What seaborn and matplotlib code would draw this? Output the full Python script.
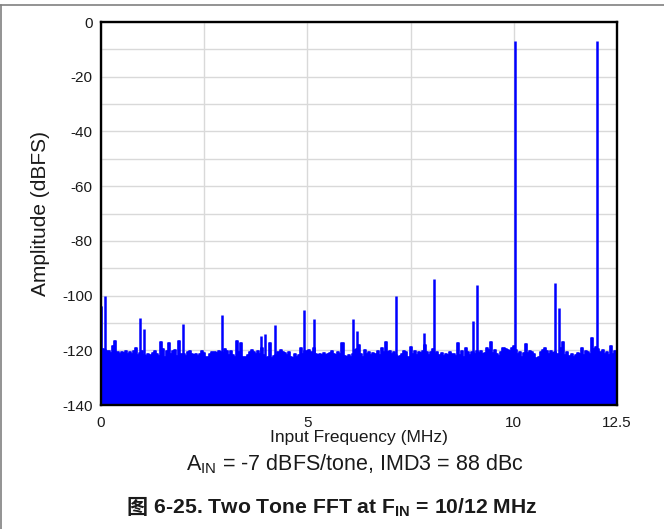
import numpy as np
import pandas as pd
import matplotlib
matplotlib.use("Agg")
import matplotlib.pyplot as plt
from matplotlib.lines import Line2D
import seaborn as sns

# -------------------------
# DATA
# -------------------------
# noise floor envelope, one value every 0.05 MHz from 0 to 12.5 MHz
floor_step = 0.05
floor_db = [
    -104.0, -119.5, -120.0, -120.2, -120.4, -121.0, -118.5, -116.5, -120.8, -121.3,
    -120.6, -121.0, -120.3, -121.2, -120.8, -121.5, -120.4, -119.2, -121.6, -121.0,
    -120.2, -121.8, -122.1, -121.5, -121.8, -120.9, -120.3, -121.4, -122.0, -116.8,
    -119.5, -122.4, -120.2, -117.5, -121.5, -120.3, -119.8, -122.2, -116.7, -121.5,
    -121.2, -122.0, -120.6, -120.1, -121.3, -121.8, -121.4, -122.0, -121.5, -120.3,
    -121.0, -122.3, -122.5, -121.2, -120.8, -120.5, -120.9, -120.2, -120.6, -121.0,
    -119.6, -120.4, -121.8, -120.1, -121.9, -122.3, -116.7, -120.5, -117.4, -122.4,
    -122.6, -121.9, -120.7, -119.9, -120.6, -121.3, -120.2, -121.5, -119.0, -121.6,
    -122.8, -122.5, -117.3, -123.0, -122.2, -121.9, -120.5, -119.8, -120.6, -121.0,
    -121.6, -120.7, -122.3, -122.9, -121.4, -122.6, -121.7, -119.3, -121.2, -120.4,
    -120.1, -119.9, -120.5, -119.2, -121.5, -121.9, -121.2, -121.6, -121.1, -121.8,
    -121.3, -120.9, -120.3, -121.2, -121.6, -120.8, -121.4, -117.4, -122.2, -122.6,
    -121.7, -122.3, -121.2, -120.0, -119.6, -118.0, -121.5, -122.3, -120.0, -121.4,
    -120.7, -121.6, -120.9, -121.3, -120.4, -121.7, -119.0, -120.8, -116.8, -120.6,
    -120.3, -121.2, -120.5, -121.9, -122.4, -122.1, -121.5, -120.4, -120.6, -122.3,
    -118.8, -121.4, -120.2, -121.6, -120.5, -121.0, -120.4, -118.0, -120.8, -121.6,
    -120.7, -119.5, -121.3, -120.7, -121.8, -121.1, -122.2, -121.4, -121.9, -120.8,
    -121.5, -121.2, -122.0, -117.4, -121.7, -120.1, -122.4, -119.3, -120.5, -121.9,
    -120.6, -121.3, -120.4, -121.1, -120.3, -121.5, -120.9, -119.0, -119.8, -117.0,
    -120.9, -119.9, -121.3, -122.0, -120.6, -119.3, -119.6, -119.9, -120.2, -119.1,
    -118.6, -119.8, -121.4, -120.5, -122.3, -120.9, -117.8, -121.0, -120.2, -120.5,
    -121.3, -122.8, -122.5, -120.7, -119.8, -119.2, -120.4, -121.5, -120.3, -121.0,
    -120.8, -121.2, -121.5, -119.2, -117.0, -121.9, -120.6, -122.1, -121.4, -122.3,
    -121.7, -120.9, -121.4, -119.3, -121.8, -120.2, -120.6, -121.3, -115.4, -119.5,
    -118.8, -119.6, -120.7, -119.8, -121.3, -120.5, -121.7, -118.6, -121.2, -120.4,
    -121.5,
]

# tones and spurs above the floor
spur_freq = [0.10, 0.95, 1.05, 1.99, 2.93, 3.87, 3.97, 4.22, 4.91, 5.17, 6.10,
             6.20, 7.14, 7.83, 8.07, 9.02, 9.12, 10.03, 10.99, 11.09, 12.02]
spur_db = [-100.0, -108.3, -112.3, -110.5, -107.1, -114.7, -114.2, -110.9, -105.4,
           -108.4, -108.6, -112.9, -100.3, -113.6, -93.9, -109.2, -96.1, -7.0,
           -95.3, -104.4, -7.0]

x_ticks = [0, 5, 10, 12.5]
x_tick_labels = ["0", "5", "10", "12.5"]
y_ticks = [0, -20, -40, -60, -80, -100, -120, -140]

caption = "A$_{\\mathregular{IN}}$ = -7 dBFS/tone, IMD3 = 88 dBc"
title_cjk = "图"
title_rest = " 6-25. Two Tone FFT at F$_{\\mathregular{IN}}$ = 10/12 MHz"

floor = pd.DataFrame({
    "freq": np.arange(len(floor_db)) * floor_step,
    "db": floor_db,
})

# -------------------------
# PLOT
# -------------------------
sns.set_theme(style="white")
plt.rcParams["font.family"] = ["Liberation Sans", "DejaVu Sans"]
plt.rcParams["axes.unicode_minus"] = False

fig = plt.figure(figsize=(6.64, 5.29), dpi=100)
ax = fig.add_axes([0.1521, 0.2344, 0.7771, 0.7240])

blue = "#0000ff"
ax.fill_between(floor["freq"], floor["db"], -140, step="mid", color=blue, lw=0)
sns.lineplot(data=floor, x="freq", y="db", ax=ax, color=blue, lw=1.2,
             drawstyle="steps-mid", estimator=None, sort=False)
ax.vlines(spur_freq, -140, spur_db, color=blue, lw=1.8)

ax.set_xlim(0, 12.5)
ax.set_ylim(-140, 0)
ax.set_xticks(x_ticks)
ax.set_xticklabels(x_tick_labels)
ax.set_xticks([2.5, 7.5], minor=True)
ax.set_yticks(y_ticks)
ax.set_yticks(np.arange(-130, 0, 20), minor=True)
ax.grid(True, which="both", color="#d9d9d9", lw=1.0)
ax.set_axisbelow(True)
ax.tick_params(axis="both", which="both", length=0, labelsize=11, colors="#1a1a1a")
ax.tick_params(axis="x", pad=8)
ax.tick_params(axis="y", pad=6)
for s in ax.spines.values():
    s.set_color("black")
    s.set_linewidth(1.7)

ax.set_xlabel("Input Frequency (MHz)", fontsize=12.5, color="#1a1a1a", labelpad=0)
ax.set_ylabel("Amplitude (dBFS)", fontsize=15, color="#1a1a1a", labelpad=9)

fig.text(0.535, 0.1229, caption, ha="center", va="center", fontsize=15.5,
         color="#1a1a1a")

# title: CJK glyph and latin part as two texts, centred together
ty = 0.0397
t1 = fig.text(0, ty, title_cjk, ha="left", va="center", fontsize=15.2,
              fontweight="bold", family="Noto Sans CJK SC", color="#1a1a1a")
t2 = fig.text(0, ty, title_rest, ha="left", va="center", fontsize=15.2,
              fontweight="bold", color="#1a1a1a")
r = fig.canvas.get_renderer()
w1 = t1.get_window_extent(r).width / fig.bbox.width
w2 = t2.get_window_extent(r).width / fig.bbox.width
x0 = 0.5 - (w1 + w2) / 2
t1.set_x(x0)
t2.set_x(x0 + w1)

# page frame lines
fig.add_artist(Line2D([0, 1], [1 - 5 / 529, 1 - 5 / 529], transform=fig.transFigure,
                      color="#808080", lw=1.2))
fig.add_artist(Line2D([1 / 664, 1 / 664], [0, 1 - 5 / 529], transform=fig.transFigure,
                      color="#808080", lw=1.2))

fig.savefig("out.png", dpi=100)
